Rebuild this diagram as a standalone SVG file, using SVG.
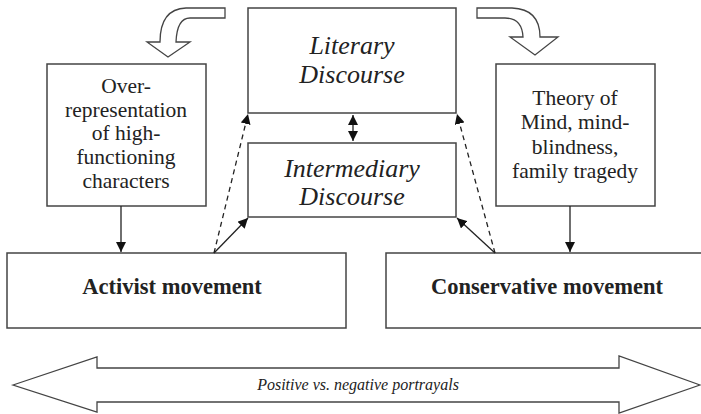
<svg xmlns="http://www.w3.org/2000/svg" width="701" height="414" viewBox="0 0 701 414">
<style>
text{font-family:"Liberation Serif","Times New Roman","DejaVu Serif",serif;fill:#222;text-anchor:middle}
.box{fill:#fff;stroke:#444;stroke-width:1.5}
.big{font-size:26px;font-style:italic}
.mid{font-size:21.5px}
.bold{font-size:22.5px;font-weight:bold}
.ln{stroke:#222;stroke-width:1.3;fill:none}
.dash{stroke-dasharray:5 4}
.shape{fill:#fff;stroke:#444;stroke-width:1.3}
</style>
<defs>
<marker id="ah" viewBox="0 0 10 10" refX="10" refY="5" markerWidth="10" markerHeight="10" markerUnits="userSpaceOnUse" orient="auto-start-reverse">
<path d="M0,0 L10,5 L0,10 Z" fill="#111"/>
</marker>
</defs>
<rect width="701" height="414" fill="#fff"/>
<g id="curve-left">
<path class="shape" d="M225,8 L186,8 Q160,9 160,42 L147,42 L168,57 L190,42 L176,42 Q177,18 190,18 L225,18 Z"/>
</g>
<g id="curve-right">
<path class="shape" d="M477,8 L512,8 Q540,9 540,37 L558,37 L535,55 L510,37 L523,37 Q522,18 505,18 L477,18 Z"/>
</g>
<g id="literary">
<rect class="box" x="248" y="8" width="208" height="105"/>
<text class="big" x="352" y="54">Literary</text>
<text class="big" x="352" y="83">Discourse</text>
</g>
<g id="intermediary">
<rect class="box" x="248" y="143" width="208" height="74"/>
<text class="big" x="352" y="177">Intermediary</text>
<text class="big" x="352" y="205">Discourse</text>
</g>
<g id="overrep">
<rect class="box" x="47" y="64" width="159" height="142"/>
<text class="mid" x="126" y="93">Over-</text>
<text class="mid" x="126" y="117">representation</text>
<text class="mid" x="126" y="140">of high-</text>
<text class="mid" x="126" y="164">functioning</text>
<text class="mid" x="126" y="188">characters</text>
</g>
<g id="theory">
<rect class="box" x="496" y="64" width="159" height="142"/>
<text class="mid" x="575" y="105">Theory of</text>
<text class="mid" x="575" y="129">Mind, mind-</text>
<text class="mid" x="575" y="154">blindness,</text>
<text class="mid" x="575" y="178">family tragedy</text>
</g>
<g id="activist">
<rect class="box" x="7" y="253" width="339" height="75"/>
<text class="bold" x="172" y="294">Activist movement</text>
</g>
<g id="conservative">
<rect class="box" x="386" y="253" width="320" height="75"/>
<text class="bold" x="547" y="294">Conservative movement</text>
</g>
<g id="connectors">
<line class="ln" x1="121" y1="206" x2="121" y2="252" marker-end="url(#ah)"/>
<line class="ln" x1="570" y1="206" x2="570" y2="252" marker-end="url(#ah)"/>
<line class="ln" x1="353" y1="115" x2="353" y2="141" marker-start="url(#ah)" marker-end="url(#ah)"/>
<line class="ln dash" x1="214" y1="253" x2="248" y2="114" marker-end="url(#ah)"/>
<line class="ln" x1="214" y1="253" x2="248" y2="218" marker-end="url(#ah)"/>
<line class="ln dash" x1="495" y1="253" x2="457" y2="114" marker-end="url(#ah)"/>
<line class="ln" x1="495" y1="253" x2="457" y2="218" marker-end="url(#ah)"/>
</g>
<g id="scale">
<path class="shape" d="M13,385 L97,357 L97,368 L619,368 L619,356 L700,385 L619,413 L619,402 L97,402 L97,412 Z"/>
<text style="font-size:16px;font-style:italic" x="358" y="390">Positive vs. negative portrayals</text>
</g>
</svg>
